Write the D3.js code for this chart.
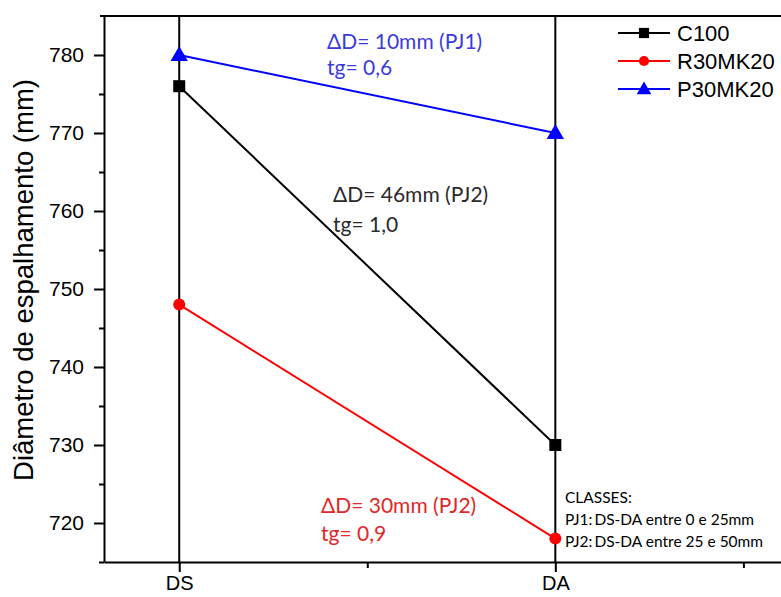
<!DOCTYPE html>
<html><head><meta charset="utf-8">
<script src="https://cdn.jsdelivr.net/npm/d3@7"></script>
<style>body{margin:0;background:#fff}svg{display:block}</style>
</head><body>
<svg id="c" width="781" height="597"></svg>
<script>
const categories = ["DS", "DA"];
const seriesNames = ["C100", "R30MK20", "P30MK20"];
const c100 = [776, 730];
const r30mk20 = [748, 718];
const p30mk20 = [780, 770];
const seriesColors = ["#000000", "#ff0000", "#0000ff"];
const seriesShapes = ["square", "circle", "triangle"];
const yTicks = [720, 730, 740, 750, 760, 770, 780];
const annotations = [
  {lines: ["\u0394D= 10mm (PJ1)", "tg= 0,6"], color: "#3b3bdc"},
  {lines: ["\u0394D= 46mm (PJ2)", "tg= 1,0"], color: "#2a2a2a"},
  {lines: ["\u0394D= 30mm (PJ2)", "tg= 0,9"], color: "#e02828"}
];
const classesLines = ["CLASSES:", "PJ1:\u2009DS-DA entre 0 e 25mm", "PJ2:\u2009DS-DA entre 25 e 50mm"];

const allSeries = [c100, r30mk20, p30mk20];
const svg = d3.select("#c");
const x = d3.scaleLinear().domain([0.8, 2.6]).range([104, 781]);
const y = d3.scaleLinear().domain([715, 785]).range([562, 16]);
const axisFont = "'Liberation Sans', Arial, sans-serif";
const noteFont = "Lato, 'Open Sans', sans-serif";

// vertical reference lines at categories
categories.forEach((c, i) => {
  svg.append("line").attr("x1", x(i + 1)).attr("x2", x(i + 1))
    .attr("y1", y(785)).attr("y2", y(715))
    .attr("stroke", "#000").attr("stroke-width", 2);
});

// y axis
const yAxis = d3.axisLeft(y).tickValues(yTicks).tickSize(10).tickPadding(10).tickSizeOuter(0);
const gy = svg.append("g").attr("transform", `translate(${x(0.8)},0)`).call(yAxis);
gy.select(".domain").attr("stroke-width", 2);
gy.selectAll(".tick line").attr("stroke-width", 2);
gy.selectAll("text").attr("font-family", axisFont).attr("font-size", 21).attr("fill", "#000");
const yMinor = d3.axisLeft(y).tickValues(d3.range(725, 785, 10).concat([715])).tickSize(5).tickFormat("").tickSizeOuter(0);
const gym = svg.append("g").attr("transform", `translate(${x(0.8)},0)`).call(yMinor);
gym.select(".domain").remove();
gym.selectAll(".tick line").attr("stroke-width", 2);

// x axis
const xAxis = d3.axisBottom(x).tickValues([1, 2]).tickFormat(d => categories[d - 1]).tickSize(10).tickPadding(4).tickSizeOuter(0);
const gx = svg.append("g").attr("transform", `translate(0,${y(715)})`).call(xAxis);
gx.select(".domain").attr("stroke-width", 2);
gx.selectAll(".tick line").attr("stroke-width", 2);
gx.selectAll("text").attr("font-family", axisFont).attr("font-size", 20).attr("fill", "#000");
const xMinor = d3.axisBottom(x).tickValues([1.5, 2.5]).tickSize(6).tickFormat("").tickSizeOuter(0);
const gxm = svg.append("g").attr("transform", `translate(0,${y(715)})`).call(xMinor);
gxm.select(".domain").remove();
gxm.selectAll(".tick line").attr("stroke-width", 2);

// top frame
svg.append("line").attr("x1", x(0.8) - 4).attr("x2", x(2.6)).attr("y1", y(785)).attr("y2", y(785))
  .attr("stroke", "#000").attr("stroke-width", 2);

// y label
svg.append("text").attr("transform", `translate(33,280) rotate(-90)`)
  .attr("text-anchor", "middle").attr("font-family", axisFont).attr("font-size", 27.5)
  .text("Di\u00e2metro de espalhamento (mm)");

function marker(g, shape, cx, cy, color, k) {
  if (shape === "square") g.append("rect").attr("x", cx - 6 * k).attr("y", cy - 6 * k).attr("width", 12 * k).attr("height", 12 * k).attr("fill", color);
  else if (shape === "circle") g.append("circle").attr("cx", cx).attr("cy", cy).attr("r", 6 * k).attr("fill", color);
  else g.append("path").attr("d", d3.symbol(d3.symbolTriangle, 130 * k * k)()).attr("transform", `translate(${cx},${cy + 1})`).attr("fill", color);
}

const line = d3.line().x((d, i) => x(i + 1)).y(d => y(d));
allSeries.forEach((vals, s) => {
  const g = svg.append("g");
  g.append("path").attr("d", line(vals)).attr("fill", "none").attr("stroke", seriesColors[s]).attr("stroke-width", 2);
  vals.forEach((v, i) => marker(g, seriesShapes[s], x(i + 1), y(v), seriesColors[s], 1));
});

// legend
seriesNames.forEach((n, i) => {
  const ly = 33 + i * 28;
  const g = svg.append("g");
  g.append("line").attr("x1", 618).attr("x2", 670).attr("y1", ly).attr("y2", ly).attr("stroke", seriesColors[i]).attr("stroke-width", 2);
  marker(g, seriesShapes[i], 644, ly, seriesColors[i], 0.85);
  g.append("text").attr("x", 677).attr("y", ly + 8).attr("font-family", axisFont).attr("font-size", 22).text(n);
});

// annotations
const annPos = [[327, 49, 26], [333, 202, 30], [321, 513, 28]];
annotations.forEach((a, k) => {
  a.lines.forEach((t, j) => {
    svg.append("text").attr("x", annPos[k][0]).attr("y", annPos[k][1] + j * annPos[k][2])
      .attr("font-family", noteFont).attr("font-size", 21).attr("fill", a.color).text(t);
  });
});

classesLines.forEach((t, j) => {
  svg.append("text").attr("x", 565).attr("y", 503 + j * 22).attr("font-family", noteFont)
    .attr("font-size", 15.5).attr("fill", "#000").text(t);
});
</script>
</body></html>
